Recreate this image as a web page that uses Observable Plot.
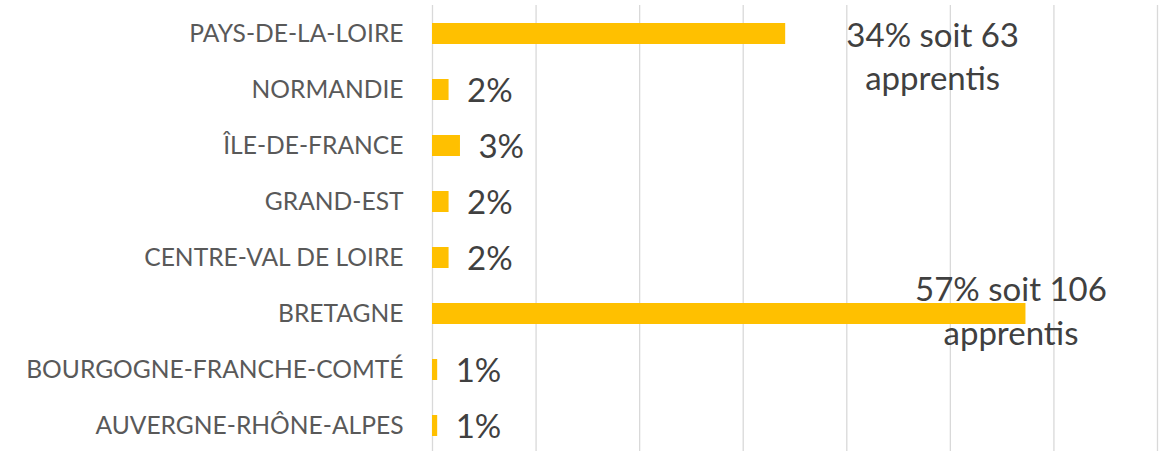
<!DOCTYPE html>
<html>
<head>
<meta charset="utf-8">
<script src="https://cdn.jsdelivr.net/npm/d3@7"></script>
<script src="https://cdn.jsdelivr.net/npm/@observablehq/plot@0.6"></script>
<style>
  html, body { margin: 0; padding: 0; background: #fff; }
  #chart svg { display: block; }
</style>
</head>
<body>
<div id="chart"></div>
<script>
const regions = ["PAYS-DE-LA-LOIRE", "NORMANDIE", "ÎLE-DE-FRANCE", "GRAND-EST", "CENTRE-VAL DE LOIRE", "BRETAGNE", "BOURGOGNE-FRANCHE-COMTÉ", "AUVERGNE-RHÔNE-ALPES"];
const shares = [34.1, 1.6, 2.7, 1.6, 1.6, 57.3, 0.5, 0.5];
const labels = ["34% soit 63\napprentis", "2%", "3%", "2%", "2%", "57% soit 106\napprentis", "1%", "1%"];
const gridTicks = [0, 10, 20, 30, 40, 50, 60, 70];

const data = regions.map((r, i) => ({region: r, share: shares[i], label: labels[i]}));
const small = data.filter(d => !d.label.includes("\n"));
const big1 = data.filter(d => d.region === "PAYS-DE-LA-LOIRE");
const big2 = data.filter(d => d.region === "BRETAGNE");

const font = "Lato, 'Open Sans', sans-serif";
const labelFill = "#404040";

const chart = Plot.plot({
  width: 1163,
  height: 451,
  marginLeft: 432,
  marginRight: 6,
  marginTop: 5,
  marginBottom: 0,
  style: {fontFamily: font, background: "#fff", color: "#595959", overflow: "visible"},
  x: {domain: [0, 70], axis: null},
  y: {domain: regions, range: [5, 455], paddingInner: 0.62, paddingOuter: 0.31, axis: null, label: null},
  marks: [
    Plot.ruleX(gridTicks, {stroke: "#d9d9d9", strokeWidth: 1.3}),
    Plot.barX(data, {x: "share", y: "region", fill: "#FFC000"}),
    Plot.axisY({tickSize: 0, tickPadding: 29, fontSize: 24.6, fill: "#595959", fontFamily: font, label: null}),
    Plot.text(small, {x: "share", y: "region", text: "label", textAnchor: "start", dx: 18, dy: 1, fontSize: 33, fill: labelFill, fontFamily: font}),
    Plot.text(big1, {x: "share", y: "region", text: "label", textAnchor: "middle", lineAnchor: "middle", lineHeight: 1.3, dx: 147, dy: 21, fontSize: 33, fill: labelFill, fontFamily: font}),
    Plot.text(big2, {x: "share", y: "region", text: "label", textAnchor: "middle", lineAnchor: "middle", lineHeight: 1.32, dx: -15, dy: -5, fontSize: 33, fill: labelFill, fontFamily: font})
  ]
});
document.getElementById("chart").appendChild(chart);
</script>
</body>
</html>
